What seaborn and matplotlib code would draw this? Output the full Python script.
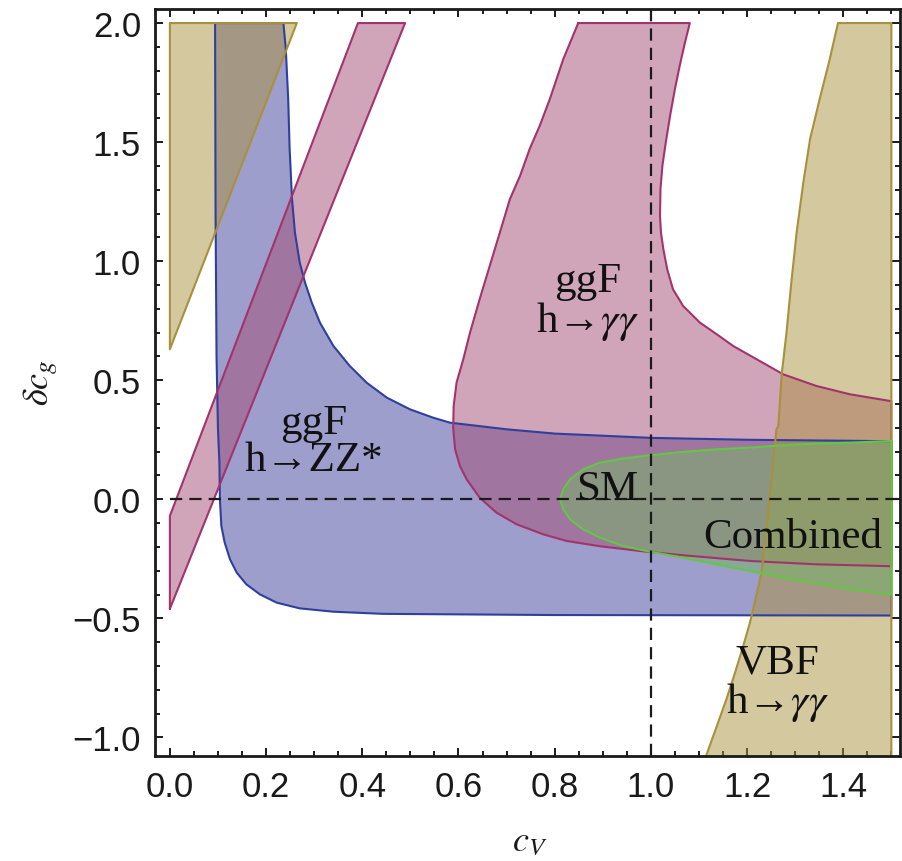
import numpy as np
import matplotlib
matplotlib.use("Agg")
import matplotlib.pyplot as plt
from matplotlib.ticker import MultipleLocator, FuncFormatter
import seaborn as sns

# boundary points of each allowed region (c_V, delta c_g)
vbf_a_x = [0.0, 0.264, 0.0, 0.0]
vbf_a_y = [2.0, 2.0, 0.63, 2.0]

vbf_b_x = [1.108, 1.116, 1.137, 1.157, 1.175, 1.192, 1.206, 1.216, 1.230, 1.240, 1.251, 1.261,
           1.265, 1.272, 1.282, 1.292, 1.303, 1.317, 1.331, 1.351, 1.372, 1.389, 1.5, 1.5, 1.108]
vbf_b_y = [-1.12, -1.071, -0.953, -0.840, -0.728, -0.616, -0.518, -0.434, -0.308, -0.126, 0.084, 0.294,
           0.308, 0.525, 0.700, 0.910, 1.120, 1.331, 1.513, 1.681, 1.849, 2.0, 2.0, -1.12, -1.12]

gga_band_x = [0.0, 0.0, 0.391, 0.489, 0.0]
gga_band_y = [-0.46, -0.07, 2.0, 2.0, -0.46]

gga_x = [0.849, 0.818, 0.790, 0.769, 0.748, 0.728, 0.707, 0.686, 0.665, 0.644, 0.624, 0.610, 0.596,
         0.590, 0.589, 0.593, 0.603, 0.617, 0.644, 0.679, 0.721, 0.776, 0.825, 0.894, 0.977, 1.067,
         1.206, 1.344, 1.5, 1.5, 1.414, 1.344, 1.275, 1.220, 1.171, 1.137, 1.102, 1.067, 1.046,
         1.034, 1.026, 1.021, 1.019, 1.020, 1.024, 1.031, 1.040, 1.050, 1.060, 1.071, 1.081, 0.849]
gga_y = [2.0, 1.849, 1.681, 1.569, 1.471, 1.358, 1.261, 1.120, 0.980, 0.840, 0.700, 0.588, 0.490,
         0.392, 0.300, 0.210, 0.140, 0.084, 0.007, -0.056, -0.105, -0.147, -0.175, -0.197, -0.217, -0.235,
         -0.259, -0.273, -0.281, 0.412, 0.441, 0.476, 0.525, 0.588, 0.644, 0.693, 0.742, 0.812, 0.882,
         0.966, 1.050, 1.120, 1.190, 1.303, 1.401, 1.499, 1.611, 1.723, 1.821, 1.919, 2.0, 2.0]

zz_x = [0.094, 0.095, 0.097, 0.100, 0.103, 0.104, 0.107, 0.114, 0.125, 0.139, 0.159, 0.187, 0.222,
        0.270, 0.340, 0.443, 0.8, 1.5, 1.5, 1.2, 1.0, 0.8, 0.7, 0.582, 0.547, 0.499, 0.451, 0.409,
        0.374, 0.340, 0.312, 0.295, 0.281, 0.270, 0.260, 0.254, 0.249, 0.246, 0.241, 0.236, 0.094]
zz_y = [2.0, 1.2, 0.6, 0.294, 0.154, 0.0, -0.112, -0.182, -0.252, -0.308, -0.357, -0.399, -0.434,
        -0.458, -0.472, -0.481, -0.486, -0.488, 0.244, 0.250, 0.258, 0.276, 0.294, 0.322, 0.343, 0.378,
        0.427, 0.490, 0.560, 0.644, 0.742, 0.826, 0.910, 0.994, 1.120, 1.261, 1.471, 1.681, 1.891, 2.0, 2.0]

comb_x = [0.811, 0.818, 0.832, 0.859, 0.894, 0.942, 0.998, 1.067, 1.137, 1.206, 1.275, 1.344, 1.414,
          1.5, 1.5, 1.414, 1.344, 1.275, 1.206, 1.137, 1.067, 0.998, 0.942, 0.894, 0.859, 0.832,
          0.818, 0.811]
comb_y = [0.0, 0.042, 0.084, 0.126, 0.154, 0.171, 0.185, 0.199, 0.210, 0.217, 0.227, 0.234, 0.238,
          0.245, -0.400, -0.378, -0.353, -0.329, -0.301, -0.273, -0.245, -0.220, -0.196, -0.161,
          -0.126, -0.084, -0.042, 0.0]

labels = ["ggF\nh\u2192ZZ*", "ggF\nh\u2192$\\gamma\\gamma$", "SM", "Combined",
          "VBF\nh\u2192$\\gamma\\gamma$"]
label_x = [0.30, 0.869, 0.91, 1.296, 1.264]
label_y = [0.245, 0.83, 0.0, -0.20, -0.77]

sns.set_theme(style="ticks")
plt.rcParams['mathtext.fontset'] = 'stix'
plt.rcParams['font.family'] = ['Liberation Sans', 'DejaVu Sans']

fig = plt.figure(figsize=(9.02, 8.62), dpi=100)
ax = fig.add_axes([0.1718, 0.1218, 0.826, 0.8666])

tan_fill, tan_edge = (0.671, 0.576, 0.255), "#a8903c"
pink_fill, pink_edge = (0.639, 0.302, 0.459), "#a3336c"
blue_fill, blue_edge = (0.239, 0.247, 0.600), "#2e3f9e"
green_fill, green_edge = (0.463, 0.710, 0.404), "#62c843"

# fill order: blue, pink, tan, combined
regions = [
    (zz_x, zz_y, blue_fill, blue_edge),
    (gga_band_x, gga_band_y, pink_fill, pink_edge),
    (gga_x, gga_y, pink_fill, pink_edge),
    (vbf_a_x, vbf_a_y, tan_fill, tan_edge),
    (vbf_b_x, vbf_b_y, tan_fill, tan_edge),
    (comb_x, comb_y, green_fill, green_edge),
]
for rx, ry, fc, ec in regions:
    ax.fill(rx, ry, color=fc, alpha=0.5, lw=0)
for rx, ry, fc, ec in regions:
    sns.lineplot(x=rx, y=ry, sort=False, estimator=None, color=ec, lw=1.5, ax=ax)

# SM reference lines
ax.hlines(0, 0, 1.52, colors="#1a1a1a", lw=1.6, linestyles=(0, (5.5, 3.2)), zorder=5)
ax.axvline(1.0, color="#1a1a1a", lw=1.6, ls=(0, (5.5, 3.2)), zorder=5)

serif = ['Liberation Serif', 'DejaVu Serif']
for t, x, y in zip(labels, label_x, label_y):
    va = "baseline" if t in ("SM", "Combined") else "center"
    ax.text(x, y, t, ha="center", va=va, fontsize=31, family=serif,
            linespacing=0.95, color="#111111", zorder=6)

ax.set_xlim(-0.031, 1.518)
ax.set_ylim(-1.078, 2.059)
ax.xaxis.set_major_locator(MultipleLocator(0.2))
ax.xaxis.set_minor_locator(MultipleLocator(0.05))
ax.yaxis.set_major_locator(MultipleLocator(0.5))
ax.yaxis.set_minor_locator(MultipleLocator(0.1))
fmt = FuncFormatter(lambda v, p: f"{v:.1f}".replace("-", "\u2212"))
ax.xaxis.set_major_formatter(fmt)
ax.yaxis.set_major_formatter(fmt)
ax.tick_params(which="both", direction="in", top=True, right=True, colors="#1a1a1a",
               labelsize=25, width=1.4)
ax.tick_params(which="major", length=6, pad=10)
ax.tick_params(which="minor", length=3.5)
for s in ax.spines.values():
    s.set_linewidth(2.0)
    s.set_color("#1a1a1a")

fig.text(41 / 902, 1 - 383 / 862, r"$\delta c_g$", rotation=90, ha="center", va="center",
         fontsize=26, color="#1a1a1a")
fig.text(530 / 902, 1 - 842 / 862, r"$c_V$", ha="center", va="center",
         fontsize=26, color="#1a1a1a")

fig.savefig("out.png", dpi=100)
